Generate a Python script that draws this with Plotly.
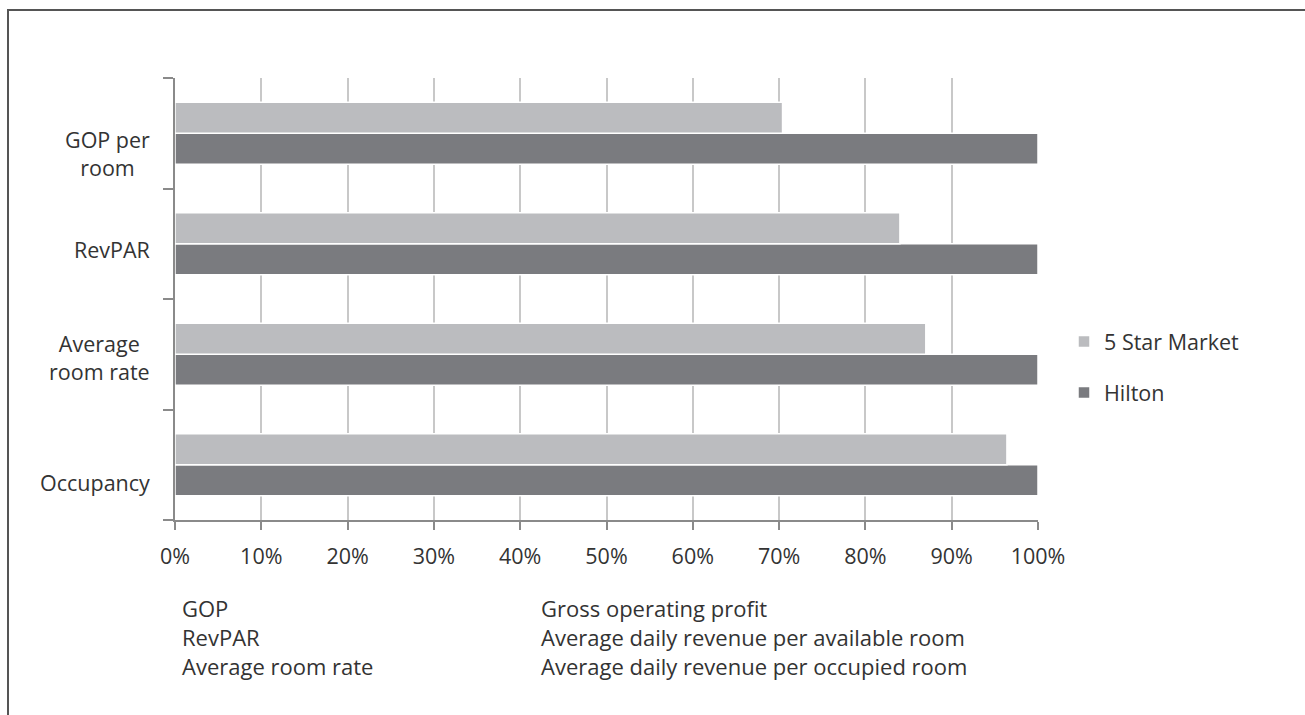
import plotly.graph_objects as go

# ---- data ----
categories = ["Occupancy", "Average<br>room rate", "RevPAR", "GOP per<br>room"]
five_star_market = [96.4, 87.0, 84.0, 70.4]
hilton = [100, 100, 100, 100]
x_ticks = [0, 10, 20, 30, 40, 50, 60, 70, 80, 90, 100]
x_tick_labels = [f"{v}%" for v in x_ticks]
abbreviations = ["GOP", "RevPAR", "Average room rate"]
definitions = ["Gross operating profit",
               "Average daily revenue per available room",
               "Average daily revenue per occupied room"]

W, H = 1305, 715
L, R, T, B = 175, 267, 78, 195
PW, PH = W - L - R, H - T - B

def px_x(px):
    return (px - L) / PW

def px_y(py):
    return 1 - (py - T) / PH

FONT = "Open Sans"
TXT = "#333333"
FS = 21.5

fig = go.Figure()
fig.add_trace(go.Bar(
    y=categories, x=hilton, orientation="h", name="Hilton", legendgroup="h",
    legendrank=2,
    marker=dict(color="#7a7b7f", line=dict(color="white", width=1.5)),
))
fig.add_trace(go.Bar(
    y=categories, x=five_star_market, orientation="h", name="5 Star Market",
    legendgroup="m", legendrank=1,
    marker=dict(color="#bbbcbf", line=dict(color="white", width=1.5)),
))

annotations = []
# category labels (right-aligned next to axis)
label_shift = [-18, -3, -6, -20]
for cat, sh in zip(categories, label_shift):
    annotations.append(dict(
        x=px_x(152), xref="paper", y=cat, yref="y", yshift=sh,
        text=cat, showarrow=False, xanchor="right", yanchor="middle",
        align="center", font=dict(family=FONT, size=FS, color=TXT)))

# footnotes
for i, (a, d) in enumerate(zip(abbreviations, definitions)):
    yy = px_y(608 + 29 * i)
    annotations.append(dict(x=px_x(180), y=yy, xref="paper", yref="paper",
                            text=a, showarrow=False, xanchor="left", yanchor="middle",
                            font=dict(family=FONT, size=22, color=TXT)))
    annotations.append(dict(x=px_x(539), y=yy, xref="paper", yref="paper",
                            text=d, showarrow=False, xanchor="left", yanchor="middle",
                            font=dict(family=FONT, size=22, color=TXT)))

shapes = [dict(type="path", xref="paper", yref="paper",
               path=f"M {px_x(8)} {px_y(720)} L {px_x(8)} {px_y(10)} L {px_x(1310)} {px_y(10)}",
               line=dict(color="#555555", width=2))]

fig.update_layout(
    width=W, height=H,
    margin=dict(l=L, r=R, t=T, b=B),
    paper_bgcolor="white", plot_bgcolor="white",
    barmode="group", bargap=0.44, bargroupgap=0.0,
    font=dict(family=FONT, size=FS, color=TXT),
    xaxis=dict(range=[0, 100], tickvals=x_ticks, ticktext=x_tick_labels,
               showgrid=True, gridcolor="#c8c8c8", gridwidth=1.5,
               showline=True, linecolor="#8a8a8a", linewidth=1.5,
               ticks="outside", ticklen=8, tickcolor="#8a8a8a", tickwidth=1.5,
               ticklabelstandoff=8,
               zeroline=False, tickfont=dict(family=FONT, size=FS, color=TXT)),
    yaxis=dict(type="category", categoryorder="array", categoryarray=categories,
               range=[-0.5, 3.5], showticklabels=False,
               tickson="boundaries", ticks="outside", ticklen=10,
               tickcolor="#8a8a8a", tickwidth=1.5,
               showline=True, linecolor="#8a8a8a", linewidth=1.5,
               showgrid=False, zeroline=False),
    legend=dict(x=px_x(1064), y=px_y(321), xanchor="left", yanchor="top",
                traceorder="grouped",
                font=dict(family=FONT, size=FS, color=TXT),
                itemwidth=30, tracegroupgap=20, bgcolor="rgba(0,0,0,0)"),
    annotations=annotations, shapes=shapes,
    showlegend=True,
)

fig.write_html("out.html")
